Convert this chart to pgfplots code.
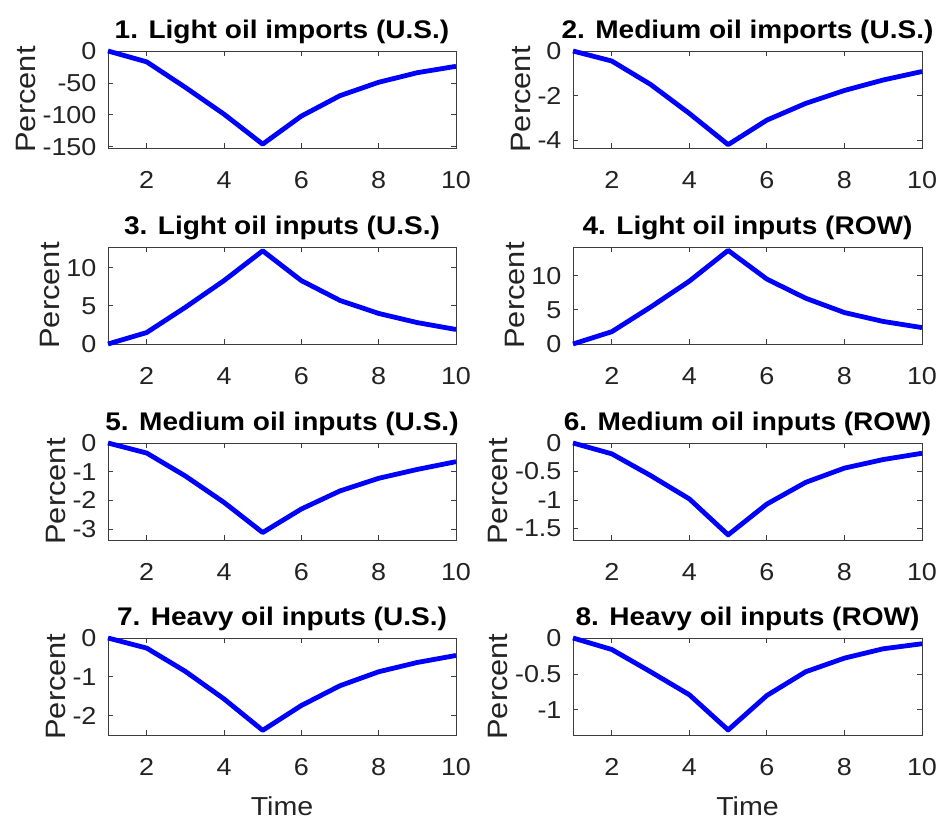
\documentclass[border=0pt]{standalone}
\usepackage{pgfplots}
\pgfplotsset{compat=1.18}
\usepackage{fontspec}
\setmainfont{Liberation Sans}[FakeStretch=1.1]
\definecolor{axgray}{RGB}{60,60,60}
\definecolor{txtgray}{RGB}{35,35,35}
\pgfplotsset{
  panel/.style={
    scale only axis, width=348pt, height=97pt,
    xmin=1, xmax=10, xtick={2,4,6,8,10},
    tick align=inside, major tick length=5pt,
    axis line style={axgray, line width=0.8pt},
    every tick/.style={axgray, line width=0.8pt},
    tick label style={font=\fontsize{24.5}{28}\selectfont, text=txtgray},
    /pgf/number format/assume math mode=true,
    xticklabel style={yshift=-20pt},
    yticklabel style={xshift=-8pt},
    ylabel={Percent},
    ylabel style={font=\fontsize{28}{30}\selectfont, text=txtgray},
    title style={font=\bfseries\fontsize{25.5}{28}\selectfont, yshift=-2pt},
    clip=false,
    anchor=south west,
  },
  curve/.style={color={rgb,255:red,0;green,0;blue,255}, line width=4.8pt, line join=round},
  timelabel/.style={xlabel={Time}, xlabel style={font=\fontsize{26}{28}\selectfont, text=txtgray, yshift=-14pt}}
}
\begin{document}
\begin{tikzpicture}[x=1pt,y=1pt]
\useasboundingbox (0,0) rectangle (940,823);
% Row 1
\begin{axis}[panel, at={(108pt,675pt)}, title={1. Light oil imports (U.S.)},
  ymin=-152, ymax=0, ytick={-150,-100,-50,0}, yticklabels={-150,-100,-50,0}]
\addplot[curve] coordinates {(1,0)(2,-17)(3,-57)(4,-99)(5,-146)(6,-102)(7,-70)(8,-49)(9,-34)(10,-24)};
\end{axis}
\begin{axis}[panel, width=349pt, at={(573pt,675pt)}, title={2. Medium oil imports (U.S.)},
  ymin=-4.35, ymax=0, ytick={-4,-2,0}, yticklabels={-4,-2,0}]
\addplot[curve] coordinates {(1,0)(2,-0.45)(3,-1.5)(4,-2.8)(5,-4.2)(6,-3.1)(7,-2.35)(8,-1.77)(9,-1.3)(10,-0.92)};
\end{axis}
% Row 2
\begin{axis}[panel, at={(108pt,479pt)}, title={3. Light oil inputs (U.S.)},
  ymin=0, ymax=12.7, ytick={0,5,10}, yticklabels={0,5,10}]
\addplot[curve] coordinates {(1,0)(2,1.5)(3,4.8)(4,8.3)(5,12.2)(6,8.3)(7,5.7)(8,4.0)(9,2.8)(10,1.9)};
\end{axis}
\begin{axis}[panel, width=349pt, at={(573pt,479pt)}, title={4. Light oil inputs (ROW)},
  ymin=0, ymax=14.2, ytick={0,5,10}, yticklabels={0,5,10}]
\addplot[curve] coordinates {(1,0)(2,1.8)(3,5.4)(4,9.2)(5,13.7)(6,9.5)(7,6.7)(8,4.6)(9,3.3)(10,2.4)};
\end{axis}
% Row 3
\begin{axis}[panel, at={(108pt,283pt)}, title={5. Medium oil inputs (U.S.)},
  ymin=-3.38, ymax=0, ytick={-3,-2,-1,0}, yticklabels={-3,-2,-1,0}]
\addplot[curve] coordinates {(1,0)(2,-0.35)(3,-1.15)(4,-2.07)(5,-3.12)(6,-2.3)(7,-1.67)(8,-1.23)(9,-0.92)(10,-0.65)};
\end{axis}
\begin{axis}[panel, width=349pt, at={(573pt,283pt)}, title={6. Medium oil inputs (ROW)},
  ymin=-1.70, ymax=0, ytick={-1.5,-1,-0.5,0}, yticklabels={-1.5,-1,-0.5,0}]
\addplot[curve] coordinates {(1,0)(2,-0.19)(3,-0.57)(4,-0.98)(5,-1.61)(6,-1.07)(7,-0.69)(8,-0.44)(9,-0.29)(10,-0.18)};
\end{axis}
% Row 4
\begin{axis}[panel, timelabel, at={(108pt,88pt)}, title={7. Heavy oil inputs (U.S.)},
  ymin=-2.5, ymax=0, ytick={-2,-1,0}, yticklabels={-2,-1,0}]
\addplot[curve] coordinates {(1,0)(2,-0.26)(3,-0.86)(4,-1.57)(5,-2.38)(6,-1.74)(7,-1.23)(8,-0.87)(9,-0.63)(10,-0.45)};
\end{axis}
\begin{axis}[panel, timelabel, width=349pt, at={(573pt,88pt)}, title={8. Heavy oil inputs (ROW)},
  ymin=-1.35, ymax=0, ytick={-1,-0.5,0}, yticklabels={-1,-0.5,0}]
\addplot[curve] coordinates {(1,0)(2,-0.16)(3,-0.47)(4,-0.79)(5,-1.28)(6,-0.80)(7,-0.47)(8,-0.28)(9,-0.15)(10,-0.08)};
\end{axis}
\end{tikzpicture}
\end{document}
